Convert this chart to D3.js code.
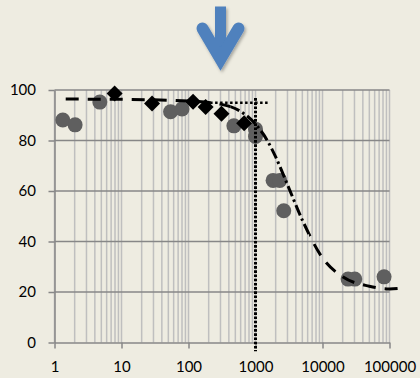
<!DOCTYPE html>
<html>
<head>
<meta charset="utf-8">
<script src="https://cdn.jsdelivr.net/npm/d3@7"></script>
<style>
  html, body { margin: 0; padding: 0; background: #eeece1; }
  svg { display: block; }
</style>
</head>
<body>
<svg id="chart" width="420" height="378"></svg>
<script>
// ---- data ----
const xTickValues = [1, 10, 100, 1000, 10000, 100000];
const yTickValues = [0, 20, 40, 60, 80, 100];

// grey circles
const circleX = [1.33, 2.03, 4.75, 54, 80, 476, 1000, 1000, 1830, 2300, 2640, 24100, 30300, 83000];
const circleY = [88.1, 86.2, 95.2, 91.4, 92.5, 85.8, 84.5, 81.6, 64.2, 64.2, 52.2, 25.1, 25.1, 26.0];

// black diamonds
const diamondX = [7.9, 28.6, 117, 180, 311, 676];
const diamondY = [98.6, 94.7, 95.3, 93.3, 90.6, 86.8];

// fitted dose-response curve
const fitX = [1.47, 10, 100, 300, 600, 1000, 1500, 2000, 3000, 5000, 10000, 20000, 50000, 100000, 148000];
const fitY = [96.4, 96.3, 95.6, 94.4, 91.5, 86.5, 80, 73.5, 62.5, 48.5, 33.5, 26, 22.3, 21.2, 21.5];

// threshold guides
const guideX = 1000;
const guideVertical = [96.8, -3.5];
const guideLevel = 95;
const guideHorizontal = [210, 1540];

// ---- drawing ----
const W = 420, H = 378;
const FONT = "Lato, 'Open Sans', sans-serif";
const x = d3.scaleLog().domain([1, 100000]).range([54.5, 389.5]);
const y = d3.scaleLinear().domain([0, 100]).range([342.5, 90]);

const svg = d3.select("#chart");
svg.append("rect").attr("width", W).attr("height", H).attr("fill", "#eeece1");

const defs = svg.append("defs");
const shadow = defs.append("filter").attr("id", "shadow")
  .attr("x", "-40%").attr("y", "-40%").attr("width", "180%").attr("height", "180%");
shadow.append("feDropShadow").attr("dx", 1.5).attr("dy", 2).attr("stdDeviation", 1.6)
  .attr("flood-color", "#000").attr("flood-opacity", 0.3);

// down arrow
const arrow = svg.append("g").attr("filter", "url(#shadow)");
arrow.append("rect").attr("x", 215).attr("y", 6.5).attr("width", 11).attr("height", 50)
  .attr("fill", "#4f81bd");
arrow.append("path").attr("d", "M202.5,28.5L220.5,59L238.5,28.5")
  .attr("fill", "none").attr("stroke", "#4f81bd").attr("stroke-width", 12)
  .attr("stroke-linecap", "round").attr("stroke-linejoin", "miter");

// vertical grid (log minor lines)
const minor = [];
for (const d of [1, 10, 100, 1000, 10000]) for (let k = 1; k < 10; k++) minor.push(d * k);
minor.push(100000);
svg.append("g").selectAll("line").data(minor).join("line")
  .attr("x1", d => x(d)).attr("x2", d => x(d))
  .attr("y1", y(100)).attr("y2", y(0))
  .attr("stroke", "#bfbfbf").attr("stroke-width", 1.5);

// horizontal grid
svg.append("g").selectAll("line").data(yTickValues.filter(v => v > 0)).join("line")
  .attr("x1", x(1)).attr("x2", x(100000))
  .attr("y1", d => y(d)).attr("y2", d => y(d))
  .attr("stroke", "#878787").attr("stroke-width", 1.5);

function styleAxis(g) {
  g.attr("font-family", FONT).attr("font-size", 15);
  g.select(".domain").attr("stroke", "#878787").attr("stroke-width", 1.5);
  g.selectAll(".tick line").attr("stroke", "#878787").attr("stroke-width", 1.5);
  g.selectAll(".tick text").attr("fill", "#000");
}

svg.append("g").attr("transform", `translate(0,${y(0)})`)
  .call(d3.axisBottom(x).tickValues(xTickValues).tickFormat(d3.format("d"))
    .tickSize(6).tickSizeOuter(0).tickPadding(13))
  .call(styleAxis);

svg.append("g").attr("transform", `translate(${x(1)},0)`)
  .call(d3.axisLeft(y).tickValues(yTickValues).tickFormat(d3.format("d"))
    .tickSize(6).tickSizeOuter(0).tickPadding(12.5))
  .call(styleAxis);

// grey circles
svg.append("g").selectAll("circle").data(circleX).join("circle")
  .attr("cx", d => x(d)).attr("cy", (d, i) => y(circleY[i])).attr("r", 7.5)
  .attr("fill", "#5f5f5f");

// threshold guides (dotted)
svg.append("line")
  .attr("x1", x(guideX)).attr("x2", x(guideX))
  .attr("y1", y(guideVertical[0])).attr("y2", y(guideVertical[1]))
  .attr("stroke", "#000").attr("stroke-width", 3).attr("stroke-dasharray", "2.6,1.6");
svg.append("line")
  .attr("x1", x(guideHorizontal[0])).attr("x2", x(guideHorizontal[1]))
  .attr("y1", y(guideLevel)).attr("y2", y(guideLevel))
  .attr("stroke", "#000").attr("stroke-width", 2.5).attr("stroke-dasharray", "2.5,2.5");

// fitted curve: dashed on plateaus, long-dash-dot through the steep drop
const steepA = x(420), steepB = x(6300);
const clipSteep = defs.append("clipPath").attr("id", "clipSteep");
clipSteep.append("rect").attr("x", steepA).attr("y", 0).attr("width", steepB - steepA).attr("height", H);
const clipFlat = defs.append("clipPath").attr("id", "clipFlat");
clipFlat.append("rect").attr("x", 0).attr("y", 0).attr("width", steepA).attr("height", H);
clipFlat.append("rect").attr("x", steepB).attr("y", 0).attr("width", W - steepB).attr("height", H);

const fitPts = fitX.map((v, i) => [x(v), y(fitY[i])]);
const lineGen = d3.line().curve(d3.curveMonotoneX);
svg.append("path").attr("d", lineGen(fitPts)).attr("clip-path", "url(#clipFlat)")
  .attr("fill", "none").attr("stroke", "#000").attr("stroke-width", 3)
  .attr("stroke-dasharray", "13,9");
svg.append("path").attr("d", lineGen(fitPts)).attr("clip-path", "url(#clipSteep)")
  .attr("fill", "none").attr("stroke", "#000").attr("stroke-width", 3)
  .attr("stroke-dasharray", "11,3.5,2.5,3.5");

// black diamonds
const dm = 8;
svg.append("g").selectAll("path").data(diamondX).join("path")
  .attr("transform", (d, i) => `translate(${x(d)},${y(diamondY[i])})`)
  .attr("d", `M0,${-dm}L${dm},0L0,${dm}L${-dm},0Z`)
  .attr("fill", "#000");
</script>
</body>
</html>
